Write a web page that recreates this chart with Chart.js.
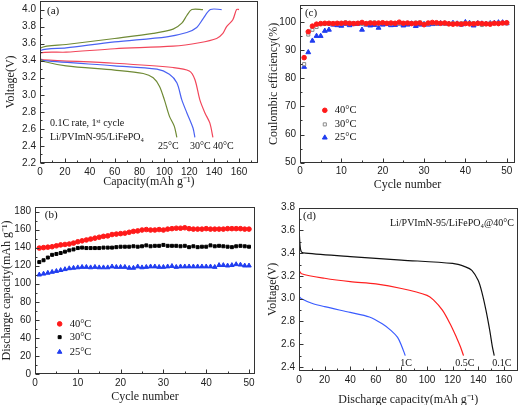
<!DOCTYPE html>
<html>
<head>
<meta charset="utf-8">
<script src="https://cdn.jsdelivr.net/npm/chart.js@4.4.1/dist/chart.umd.min.js"></script>
<style>
    body { margin: 0; background: #fff; }
    #wrap { position: relative; width: 520px; height: 405px; }
    canvas { position: absolute; }
</style>
</head>
<body>
<div id="wrap">
    <canvas id="chartA" width="260" height="200" style="left:0;top:0"></canvas>
    <canvas id="chartC" width="260" height="200" style="left:260px;top:0"></canvas>
    <canvas id="chartB" width="260" height="205" style="left:0;top:200px"></canvas>
    <canvas id="chartD" width="260" height="205" style="left:260px;top:200px"></canvas>
</div>
<script>
const SERIF = '"Liberation Serif", "Times New Roman", serif';
const SANS = '"Liberation Sans", Arial, sans-serif';

// (a) first cycle charge / discharge at 0.1C
const chg25X = [0, 0.5, 21, 60, 91, 107, 114, 118, 122, 131];
const chg25Y = [3.40, 3.55, 3.59, 3.66, 3.72, 3.77, 3.84, 3.93, 4.0, 4.0];
const chg30X = [0, 0.5, 21, 60, 102, 118, 126, 131, 137, 146];
const chg30Y = [3.40, 3.52, 3.55, 3.62, 3.68, 3.73, 3.79, 3.89, 4.0, 4.0];
const chg40X = [0, 0.5, 21, 60, 107, 128, 142, 147, 150, 155, 158, 160];
const chg40Y = [3.40, 3.49, 3.50, 3.54, 3.57, 3.61, 3.66, 3.72, 3.80, 3.88, 4.0, 4.0];
const dis25X = [0, 3, 21, 60, 83, 91, 96, 100, 104, 108, 110];
const dis25Y = [3.42, 3.39, 3.34, 3.29, 3.25, 3.20, 3.10, 2.94, 2.75, 2.63, 2.50];
const dis30X = [0, 3, 60, 94, 104, 110, 114, 118, 123, 124.5];
const dis30Y = [3.42, 3.40, 3.34, 3.30, 3.24, 3.14, 2.94, 2.79, 2.61, 2.50];
const dis40X = [0, 3, 60, 107, 120, 124.5, 128.5, 132.5, 136.5, 139];
const dis40Y = [3.42, 3.41, 3.37, 3.32, 3.28, 3.18, 2.94, 2.79, 2.67, 2.50];

// cycle numbers for (b) and (c)
const cycles = [1, 2, 3, 4, 5, 6, 7, 8, 9, 10, 11, 12, 13, 14, 15, 16, 17, 18, 19, 20,
    21, 22, 23, 24, 25, 26, 27, 28, 29, 30, 31, 32, 33, 34, 35, 36, 37, 38, 39, 40,
    41, 42, 43, 44, 45, 46, 47, 48, 49, 50];

// (b) discharge capacity
const cap40 = [139.5, 140, 140.5, 141, 142, 143, 143.5, 144, 145, 146.5, 147.5, 148.5, 149.5, 150.5, 151.5,
    152.5, 153, 154.5, 155, 155.5, 156, 157, 158, 158.5, 159.5, 160, 159.5, 159.5, 160, 159.5,
    160.5, 161, 161.5, 161.5, 162, 161, 160.5, 160.5, 160.5, 161, 160.5, 160.5, 160.5, 160.5, 161,
    161, 161, 161, 160.5, 160.5];
const cap30 = [124, 126, 129, 132, 133, 134, 135.5, 137, 138, 139.5, 140, 139.5, 139.5, 139.5, 139.5,
    140, 140, 140, 140.5, 141, 141, 141, 141.5, 141, 141.5, 142.5, 141.5, 142, 142, 143,
    142, 142, 142, 141.5, 142, 140.5, 141.5, 140.5, 141, 141, 142.5, 141.5, 142, 141.5, 141,
    140.5, 141.5, 142, 141.5, 141];
const cap25 = [110, 111, 112, 113, 114, 115, 116, 117, 117.5, 118, 118.5, 118.5, 118, 118.5, 118,
    118, 118, 119, 118.5, 118.5, 118.5, 117.5, 117.5, 119, 118, 118.5, 119, 119, 118.5, 118.5,
    119, 119.5, 118.5, 119, 119, 119, 119, 119, 119, 119, 119, 118.5, 120.5, 120.5, 120,
    120.5, 121.5, 121, 120, 120];

// (c) coulombic efficiency
const ce40 = [87.3, 96.5, 98.5, 99.2, 99.4, 99.5, 99.5, 99.4, 99.5, 99.5, 99.6, 99.5, 99.4, 99.5, 99.8,
    99.4, 99.6, 99.5, 99.6, 99.7, 99.5, 99.6, 99.5, 99.9, 99.5, 99.6, 99.4, 99.5, 99.6, 99.0,
    99.6, 99.8, 99.7, 99.5, 99.6, 99.3, 99.2, 99.3, 99.2, 99.4, 99.3, 99.3, 99.5, 99.4, 99.3,
    99.2, 99.5, 99.4, 99.6, 99.7];
const ce30 = [85.0, 95.5, 97.2, 98.2, 99.2, 99.3, 99.3, 99.3, 99.4, 99.4, 99.8, 99.5, 99.5, 99.6, 99.3,
    99.2, 99.7, 99.8, 99.4, 99.6, 99.5, 99.4, 99.6, 99.4, 99.5, 99.6, 99.5, 99.7, 99.8, 99.3,
    99.4, 99.5, 99.4, 99.5, 99.4, 99.3, 99.5, 99.4, 99.5, 99.6, 99.6, 99.5, 99.4, 98.9, 99.3,
    99.5, 99.6, 99.6, 99.6, 99.5];
const ce25 = [84.0, 89.2, 93.3, 95.0, 95.0, 96.8, 97.2, 99.0, 98.8, 98.6, 99.3, 98.8, 99.2, 99.3, 97.2,
    99.0, 98.7, 98.9, 97.9, 99.0, 99.2, 98.8, 98.9, 99.3, 98.7, 99.0, 99.4, 98.5, 99.0, 99.2,
    99.0, 99.2, 99.3, 99.5, 99.4, 99.3, 99.6, 99.4, 99.0, 99.9, 99.6, 98.7, 99.5, 99.4, 99.3,
    99.5, 99.6, 99.8, 99.8, 99.5];

// (d) discharge at different rates, 40 C
const r01X = [0, 1, 2, 5, 40, 80, 120, 130, 135, 140, 143, 146, 149, 151, 152.5];
const r01Y = [3.62, 3.45, 3.41, 3.40, 3.37, 3.34, 3.31, 3.28, 3.25, 3.16, 3.05, 2.90, 2.72, 2.58, 2.50];
const r05X = [0, 2, 20, 40, 60, 80, 100, 105, 112, 118, 123, 126, 128.5];
const r05Y = [3.25, 3.22, 3.18, 3.15, 3.13, 3.09, 3.03, 2.99, 2.90, 2.78, 2.66, 2.58, 2.50];
const r1X = [0, 2, 10, 20, 40, 55, 65, 72, 77, 80, 83];
const r1Y = [3.02, 3.00, 2.96, 2.93, 2.88, 2.84, 2.78, 2.72, 2.66, 2.59, 2.50];

function pts(xs, ys) {
    return xs.map((x, i) => ({ x: x, y: ys[i] }));
}

function curve(xs, ys, color) {
    return { data: pts(xs, ys), showLine: true, borderColor: color, borderWidth: 1.2,
        pointRadius: 0, tension: 0.3, fill: false };
}

function marks(ys, style, color, fill, r) {
    return { data: pts(cycles, ys), showLine: false, pointStyle: style, pointRadius: r,
        backgroundColor: fill, borderColor: color, borderWidth: 1 };
}

// box around the plot, inward ticks, text notes and hand-placed legend
const framePlugin = {
    id: 'frame',
    afterDraw(chart, args, opts) {
        const ctx = chart.ctx;
        const a = chart.chartArea;
        const xs = chart.scales.x, ys = chart.scales.y;
        const L = Math.round(a.left) + 0.5, R = Math.round(a.right) - 0.5;
        const T = Math.round(a.top) + 0.5, B = Math.round(a.bottom) - 0.5;
        ctx.save();
        ctx.strokeStyle = '#333';
        ctx.lineWidth = 1;
        ctx.strokeRect(L, T, R - L, B - T);

        ctx.beginPath();
        const xStep = xs.options.ticks.stepSize, yStep = ys.options.ticks.stepSize;
        xs.ticks.forEach(t => {
            const p = Math.round(xs.getPixelForValue(t.value)) + 0.5;
            ctx.moveTo(p, B); ctx.lineTo(p, B - 4);
            const m = t.value + xStep / 2;
            if (m < xs.max) {
                const q = Math.round(xs.getPixelForValue(m)) + 0.5;
                ctx.moveTo(q, B); ctx.lineTo(q, B - 2);
            }
        });
        ys.ticks.forEach(t => {
            const p = Math.round(ys.getPixelForValue(t.value)) + 0.5;
            ctx.moveTo(L, p); ctx.lineTo(L + 4, p);
            const m = t.value + yStep / 2;
            if (m < ys.max) {
                const q = Math.round(ys.getPixelForValue(m)) + 0.5;
                ctx.moveTo(L, q); ctx.lineTo(L + 2, q);
            }
        });
        ctx.stroke();

        ctx.textBaseline = 'middle';
        (opts.notes || []).forEach(n => {
            ctx.font = (n.size || 10) + 'px ' + SERIF;
            ctx.fillStyle = '#111';
            ctx.textAlign = n.align || 'left';
            ctx.fillText(n.text, xs.getPixelForValue(n.x), ys.getPixelForValue(n.y));
        });

        (opts.legend || []).forEach(item => {
            const ds = chart.data.datasets[item.ds];
            const px = xs.getPixelForValue(item.x), py = ys.getPixelForValue(item.y);
            ctx.fillStyle = ds.backgroundColor;
            ctx.strokeStyle = ds.borderColor;
            ctx.lineWidth = ds.borderWidth;
            Chart.helpers.drawPoint(ctx, { pointStyle: ds.pointStyle, radius: ds.pointRadius,
                rotation: 0, borderWidth: ds.borderWidth }, px, py);
            ctx.font = '10.5px ' + SERIF;
            ctx.fillStyle = '#111';
            ctx.textAlign = 'left';
            ctx.fillText(item.text, xs.getPixelForValue(item.tx), py);
        });
        ctx.restore();
    }
};
Chart.register(framePlugin);

function scaleOpts(o, horizontal) {
    return {
        type: 'linear',
        min: o.min,
        max: o.max,
        grid: { display: false, drawTicks: false, tickLength: 0 },
        border: { display: false },
        ticks: {
            stepSize: o.step,
            includeBounds: false,
            autoSkip: false,
            maxRotation: 0,
            padding: horizontal ? 3 : 4,
            color: '#222',
            font: { family: SANS, size: 10 },
            callback: v => (o.dec ? v.toFixed(o.dec) : String(Math.round(v)))
        },
        title: {
            display: true,
            text: o.title,
            color: '#222',
            font: { family: SERIF, size: 12, lineHeight: 1.2 },
            padding: horizontal ? { top: 0, bottom: o.titlePad } : { top: o.titlePad, bottom: 0 }
        },
        afterFit: s => {
            if (horizontal) s.height = o.size; else s.width = o.size;
            s.paddingTop = 0; s.paddingBottom = 0; s.paddingLeft = 0; s.paddingRight = 0;
        }
    };
}

function panelOptions(p) {
    return {
        responsive: false,
        animation: false,
        layout: { padding: { top: p.top, right: p.right, left: 0, bottom: 0 } },
        plugins: {
            legend: { display: false },
            tooltip: { enabled: false },
            frame: { notes: p.notes, legend: p.legend }
        },
        scales: { x: scaleOpts(p.x, true), y: scaleOpts(p.y, false) }
    };
}

const GREEN = '#6f8a35', BLUE = '#4a62f2', PINK = '#f2465a';

new Chart(document.getElementById('chartA'), {
    type: 'scatter',
    data: {
        datasets: [
            curve(chg25X, chg25Y, GREEN), curve(dis25X, dis25Y, GREEN),
            curve(chg30X, chg30Y, BLUE), curve(dis30X, dis30Y, BLUE),
            curve(chg40X, chg40Y, PINK), curve(dis40X, dis40Y, PINK)
        ]
    },
    options: panelOptions({
        top: 1, right: 2.3,
        x: { min: 0, max: 175, step: 20, size: 37, title: 'Capacity(mAh g⁻¹)', titlePad: 11 },
        y: { min: 2.2, max: 4.1, step: 0.2, size: 40, title: 'Voltage(V)', titlePad: 4, dec: 1 },
        notes: [
            { text: '(a)', x: 5.6, y: 3.985, size: 11 },
            { text: '0.1C rate, 1ˢᵗ cycle', x: 8, y: 2.67 },
            { text: 'Li/PVImN-95/LiFePO₄', x: 8, y: 2.495 },
            { text: '25°C', x: 94.8, y: 2.40 },
            { text: '30°C', x: 120.5, y: 2.40 },
            { text: '40°C', x: 139, y: 2.40 }
        ]
    })
});

new Chart(document.getElementById('chartC'), {
    type: 'scatter',
    data: {
        datasets: [
            marks(ce40, 'circle', '#ff1a1a', '#ff1a1a', 2.3),
            marks(ce30, 'rect', '#8a8a8a', '#ffffff', 2.2),
            marks(ce25, 'triangle', '#1f3cf0', '#1f3cf0', 2.8)
        ]
    },
    options: panelOptions({
        top: 2, right: 3,
        x: { min: 0, max: 52, step: 10, size: 37.3, title: 'Cycle number', titlePad: 8 },
        y: { min: 50, max: 106, step: 10, size: 40, title: 'Coulombic efficiency(%)', titlePad: 7 },
        notes: [{ text: '(c)', x: 1.2, y: 103.1, size: 11 }],
        legend: [
            { ds: 0, x: 6.0, tx: 8.4, y: 68.6, text: '40°C' },
            { ds: 1, x: 6.0, tx: 8.4, y: 63.6, text: '30°C' },
            { ds: 2, x: 6.0, tx: 8.4, y: 58.9, text: '25°C' }
        ]
    })
});

new Chart(document.getElementById('chartB'), {
    type: 'scatter',
    data: {
        datasets: [
            marks(cap40, 'circle', '#ff1a1a', '#ff1a1a', 2.3),
            marks(cap30, 'rect', '#000000', '#000000', 2.1),
            marks(cap25, 'triangle', '#1f3cf0', '#1f3cf0', 2.6)
        ]
    },
    options: panelOptions({
        top: 7, right: 2,
        x: { min: 0, max: 51.4, step: 10, size: 31, title: 'Cycle number', titlePad: 1 },
        y: { min: 0, max: 185, step: 20, size: 35, title: 'Discharge capacity(mAh g⁻¹)', titlePad: 0 },
        notes: [{ text: '(b)', x: 2.3, y: 175.5, size: 11 }],
        legend: [
            { ds: 0, x: 5.76, tx: 8.1, y: 55.5, text: '40°C' },
            { ds: 1, x: 5.76, tx: 8.1, y: 40.8, text: '30°C' },
            { ds: 2, x: 5.76, tx: 8.1, y: 24.4, text: '25°C' }
        ]
    })
});

new Chart(document.getElementById('chartD'), {
    type: 'scatter',
    data: {
        datasets: [
            curve(r01X, r01Y, '#111111'),
            curve(r05X, r05Y, '#ff2020'),
            curve(r1X, r1Y, '#3a5cff')
        ]
    },
    options: panelOptions({
        top: 7.7, right: 2.3,
        x: { min: 0, max: 170.8, step: 20, size: 34, title: 'Discharge capacity(mAh g⁻¹)', titlePad: -2 },
        y: { min: 2.365, max: 3.8, step: 0.2, size: 39, title: 'Voltage(V)', titlePad: 6, dec: 1 },
        notes: [
            { text: '(d)', x: 3.1, y: 3.727, size: 11 },
            { text: 'Li/PVImN-95/LiFePO₄@40°C', x: 71, y: 3.665 },
            { text: '1C', x: 79, y: 2.433 },
            { text: '0.5C', x: 122, y: 2.433 },
            { text: '0.1C', x: 151, y: 2.433 }
        ]
    })
});
</script>
</body>
</html>
